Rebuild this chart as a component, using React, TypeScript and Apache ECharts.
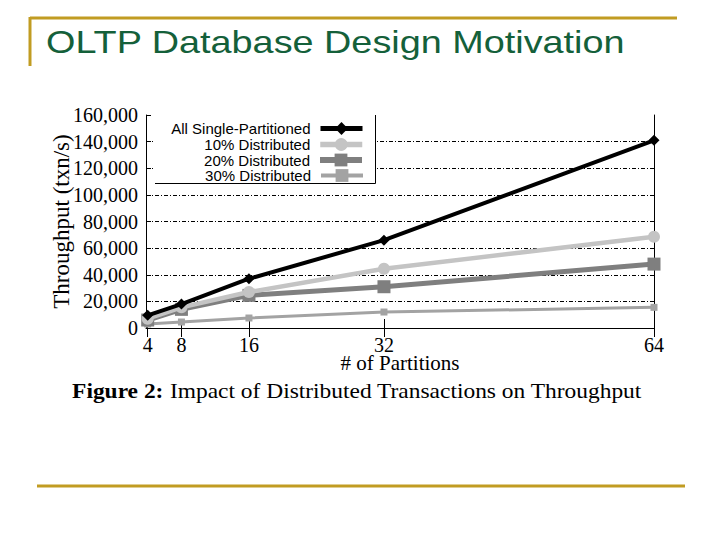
import * as echarts from "echarts";
import { useEffect, useRef } from "react";

// # of partitions
const partitions = [4, 8, 16, 32, 64];
// throughput (txn/s)
const singlePartitioned = [9500, 18000, 37000, 66000, 141000];
const distributed10 = [7000, 15500, 27000, 44500, 68500];
const distributed20 = [6000, 14000, 24500, 31000, 48000];
const distributed30 = [3000, 4500, 7500, 12000, 15500];

const seriesNames = [
  "All Single-Partitioned",
  "10% Distributed",
  "20% Distributed",
  "30% Distributed",
];

const serif = "Liberation Serif";
const sans = "Liberation Sans";
const gold = "#c19c22";

const toPairs = (vals: number[]) => vals.map((v, i) => [partitions[i], v]);

export default function App() {
  const chartRef = useRef<HTMLDivElement>(null);

  useEffect(() => {
    document.body.style.margin = "0";
    if (!chartRef.current) return;
    const chart = echarts.init(chartRef.current, undefined, { renderer: "svg" });

    const styles = [
      { color: "#000000", width: 4, symbol: "diamond", size: 11 },
      { color: "#c4c4c4", width: 4.5, symbol: "circle", size: 12 },
      { color: "#7f7f7f", width: 5, symbol: "rect", size: 13 },
      { color: "#a3a3a3", width: 3, symbol: "rect", size: 7 },
    ];
    const values = [singlePartitioned, distributed10, distributed20, distributed30];

    const legendRows = [129, 145, 160.5, 176];

    chart.setOption({
      animation: false,
      grid: { left: 146, right: 66, top: 115, bottom: 212 },
      xAxis: [
        {
          type: "value",
          min: 3.8,
          max: 64,
          position: "bottom",
          name: "# of Partitions",
          nameLocation: "middle",
          nameGap: 27,
          nameMoveOverlap: false,
          nameTextStyle: {
            fontFamily: serif,
            fontSize: 21,
            lineHeight: 16,
            color: "#000",
            verticalAlign: "top",
          },
          axisLine: { show: true, lineStyle: { color: "#000", width: 1 } },
          axisTick: {
            show: true,
            inside: true,
            length: 9,
            customValues: partitions,
            lineStyle: { color: "#000" },
          },
          axisLabel: {
            customValues: partitions,
            margin: 10,
            fontFamily: serif,
            fontSize: 20,
            lineHeight: 14,
            color: "#000",
          },
          splitLine: { show: false },
        },
        {
          type: "value",
          min: 3.8,
          max: 64,
          position: "top",
          z: 6,
          axisLine: { show: false },
          axisTick: {
            show: true,
            inside: true,
            length: 9,
            customValues: partitions,
            lineStyle: { color: "#000" },
          },
          axisLabel: { show: false },
          splitLine: { show: false },
        },
      ],
      yAxis: [
        {
          type: "value",
          min: 0,
          max: 160000,
          interval: 20000,
          name: "Throughput (txn/s)",
          nameLocation: "middle",
          nameRotate: 90,
          nameGap: 73,
          nameMoveOverlap: false,
          nameTextStyle: { fontFamily: serif, fontSize: 23, color: "#000" },
          axisLine: { show: true, lineStyle: { color: "#000", width: 1 } },
          axisTick: { show: true, inside: true, length: 5, lineStyle: { color: "#000" } },
          axisLabel: {
            margin: 8,
            fontFamily: serif,
            fontSize: 20,
            color: "#000",
            formatter: (v: number) => v.toLocaleString("en-US"),
          },
          splitLine: {
            show: true,
            showMinLine: false,
            showMaxLine: false,
            lineStyle: { color: "#000", width: 1, type: [4, 2, 1, 2] },
          },
        },
        {
          type: "value",
          min: 0,
          max: 160000,
          interval: 20000,
          position: "right",
          axisLine: { show: true, lineStyle: { color: "#000", width: 1 } },
          axisTick: { show: false },
          axisLabel: { show: false },
          splitLine: { show: false },
        },
      ],
      legend: seriesNames.map((name, i) => ({
        data: [name],
        orient: "vertical",
        align: "right",
        right: 355,
        top: legendRows[i] - 8,
        padding: 0,
        itemWidth: 42,
        itemHeight: 16,
        z: 5,
        lineStyle: { width: styles[i].width + 1 },
        textStyle: { fontFamily: sans, fontSize: 15, color: "#000", padding: [0, 5, 0, 0] },
      })),
      graphic: [
        {
          type: "rect",
          z: 3,
          shape: { x: 155, y: 115.5, width: 220, height: 68 },
          style: { fill: "#fff" },
        },
        {
          type: "polyline",
          z: 3,
          shape: { points: [[155, 183.5], [375.5, 183.5], [375.5, 115]] },
          style: { stroke: "#000", lineWidth: 1, fill: "none" },
        },
        {
          type: "line",
          shape: { x1: 30, y1: 18, x2: 677, y2: 18 },
          style: { stroke: gold, lineWidth: 3 },
        },
        {
          type: "line",
          shape: { x1: 30, y1: 17, x2: 30, y2: 66 },
          style: { stroke: gold, lineWidth: 3 },
        },
        {
          type: "line",
          shape: { x1: 37, y1: 486, x2: 685, y2: 486 },
          style: { stroke: gold, lineWidth: 3 },
        },
        {
          type: "text",
          x: 46,
          y: 27,
          scaleX: 1.22,
          style: {
            text: "OLTP Database Design Motivation",
            fontFamily: sans,
            fontSize: 31,
            fill: "#14603a",
          },
        },
        {
          type: "text",
          x: 357,
          y: 391,
          scaleX: 1.066,
          style: {
            text: "{b|Figure 2:} Impact of Distributed Transactions on Throughput",
            fontFamily: serif,
            fontSize: 22,
            fill: "#000",
            align: "center",
            verticalAlign: "middle",
            rich: {
              b: { fontFamily: serif, fontSize: 22, fontWeight: "bold", fill: "#000" },
            },
          },
        },
      ],
      series: seriesNames.map((name, i) => ({
        name,
        type: "line",
        xAxisIndex: 0,
        yAxisIndex: 0,
        z: 2 + (3 - i) * 0.1,
        data: toPairs(values[i]),
        symbol: styles[i].symbol,
        symbolSize: styles[i].size,
        lineStyle: { color: styles[i].color, width: styles[i].width },
        itemStyle: { color: styles[i].color },
      })),
    });

    return () => {
      chart.dispose();
    };
  }, []);

  return <div ref={chartRef} style={{ width: 720, height: 540 }}></div>;
}
